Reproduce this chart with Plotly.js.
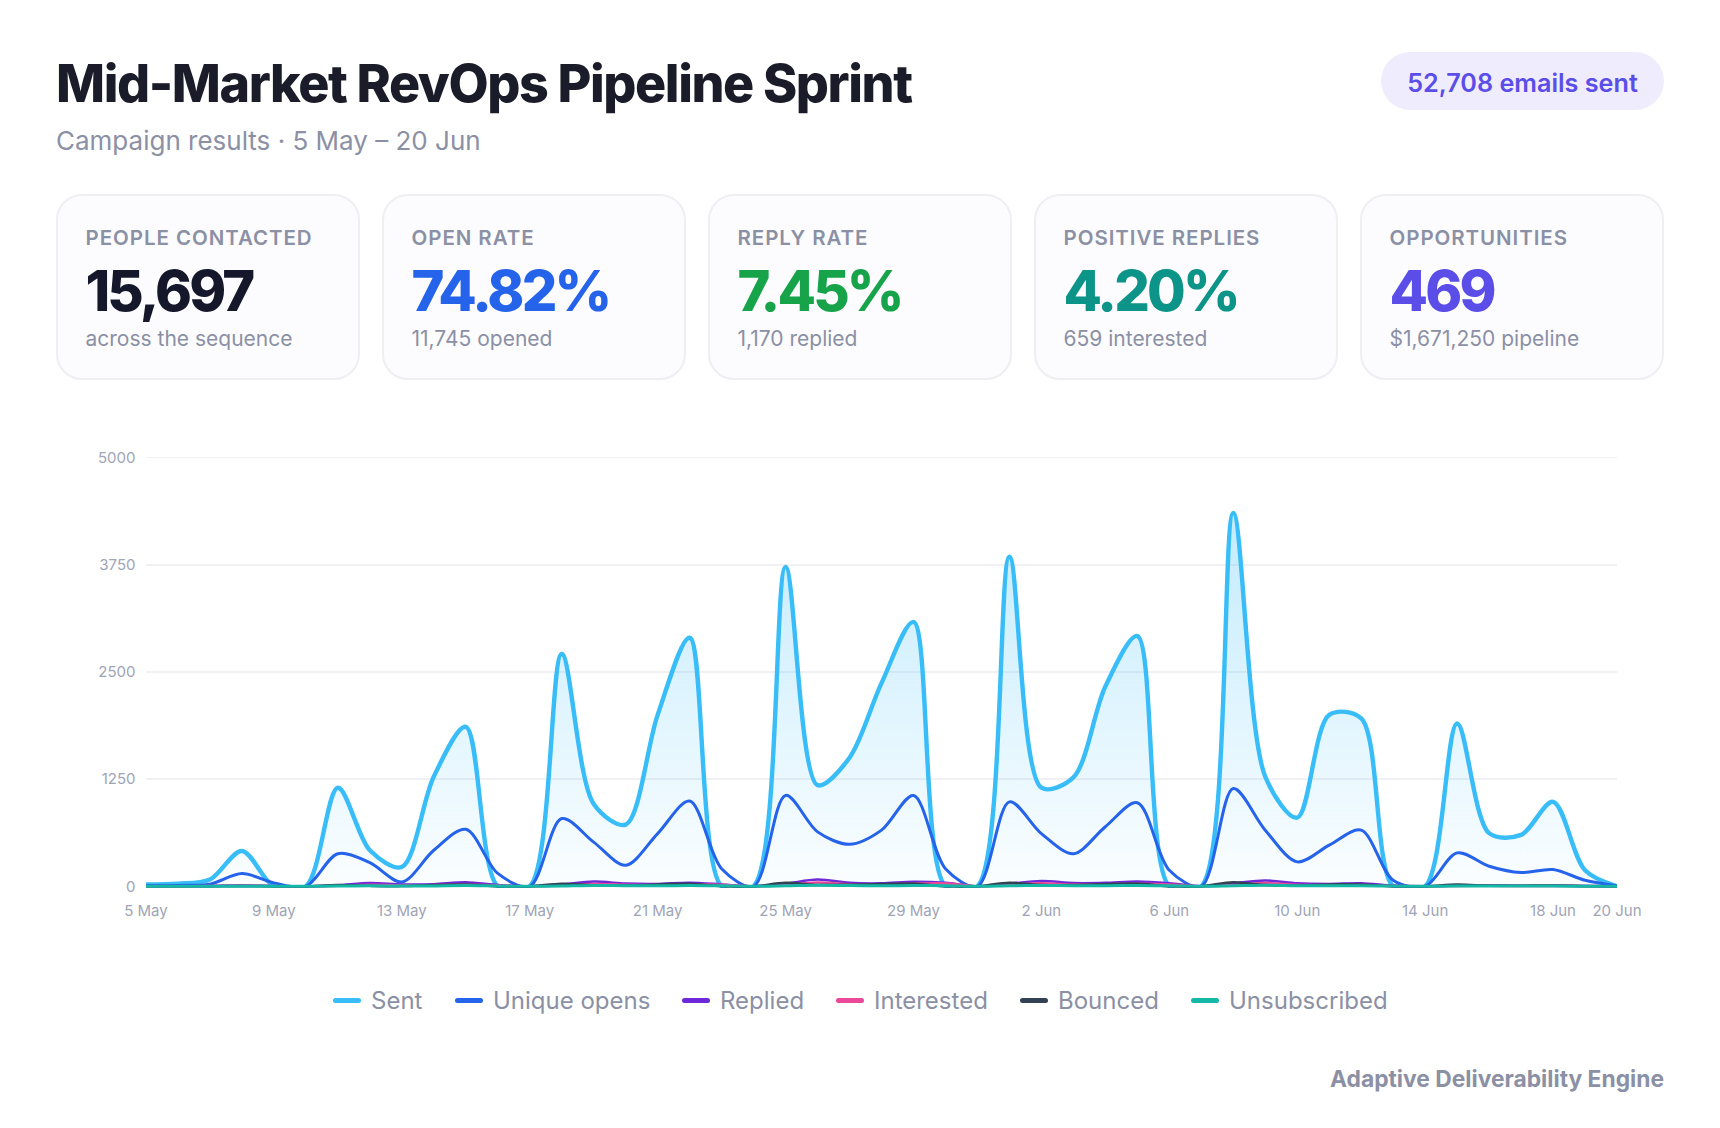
<!DOCTYPE html>
<html><head><meta charset="utf-8">
<script src="https://cdn.plot.ly/plotly-3.0.1.min.js"></script>
<style>
html,body{margin:0;padding:0;background:#fff;width:1720px;height:1128px;overflow:hidden;font-family:Inter,sans-serif}
#title{position:absolute;left:56px;top:52px;font-size:52px;font-weight:800;letter-spacing:-1.4px;color:#1a1d29;line-height:64px;white-space:nowrap}
#sub{position:absolute;left:56px;top:124px;font-size:26px;color:#8b90a5;line-height:34px;white-space:nowrap}
#pill{position:absolute;left:1381px;top:52px;width:283px;height:58px;border-radius:29px;background:#efecfd;color:#5b4ee8;font-size:25.2px;font-weight:600;line-height:62px;text-align:center;white-space:nowrap}
.card{position:absolute;top:194px;width:304px;height:186px;box-sizing:border-box;background:#fcfcfe;border:2px solid #eeeef3;border-radius:26px}
.card div{position:absolute;left:27.5px;white-space:nowrap}
.lab{top:28px;font-size:20.5px;font-weight:600;letter-spacing:.95px;color:#8b90a5;line-height:28px}
.val{top:61px;font-size:56px;font-weight:800;letter-spacing:-2.85px;line-height:68px}
.subl{top:128px;font-size:21px;color:#8b90a5;line-height:30px}
#chart{position:absolute;left:0;top:400px;width:1720px;height:540px}
#legend{position:absolute;left:0;top:985px;width:1720px;height:32px}
#legend span{position:absolute;top:0;font-size:24px;line-height:32px;color:#8b90a5;white-space:nowrap}
#legend i{position:absolute;top:13px;width:28px;height:5px;border-radius:3px}
#foot{position:absolute;right:56px;top:1063px;font-size:22.8px;font-weight:700;color:#8b90a5;line-height:32px;white-space:nowrap}
</style></head><body>
<div id="title">Mid-Market RevOps Pipeline Sprint</div>
<div id="sub">Campaign results · 5 May – 20 Jun</div>
<div id="pill">52,708 emails sent</div>
<div id="cards"></div>
<div id="chart"></div>
<div id="legend"></div>
<div id="foot">Adaptive Deliverability Engine</div>
<script>
const days=["5 May","6 May","7 May","8 May","9 May","10 May","11 May","12 May","13 May","14 May","15 May","16 May","17 May","18 May","19 May","20 May","21 May","22 May","23 May","24 May","25 May","26 May","27 May","28 May","29 May","30 May","31 May","1 Jun","2 Jun","3 Jun","4 Jun","5 Jun","6 Jun","7 Jun","8 Jun","9 Jun","10 Jun","11 Jun","12 Jun","13 Jun","14 Jun","15 Jun","16 Jun","17 Jun","18 Jun","19 Jun","20 Jun"];
const tickLabels=["5 May","9 May","13 May","17 May","21 May","25 May","29 May","2 Jun","6 Jun","10 Jun","14 Jun","18 Jun","20 Jun"];
const yTicks=[0,1250,2500,3750,5000];
const sent=[20,30,80,412,0,0,1150,420,225,1280,1860,0,0,2710,960,720,2000,2900,0,0,3727,1180,1500,2370,3085,0,0,3845,1150,1270,2330,2920,0,0,4355,1280,800,2000,1960,0,0,1900,620,600,985,187,0];
const opens=[5,10,25,148,40,0,380,275,50,420,665,150,0,790,515,245,615,995,205,0,1060,635,490,655,1060,205,0,985,615,380,695,975,187,0,1140,655,285,480,655,70,0,390,234,160,195,70,5];
const replied=[2,2,4,8,3,0,12,38,22,25,48,15,0,22,55,32,28,42,22,0,30,78,40,35,52,40,0,30,62,38,40,55,35,0,35,68,35,28,35,8,0,8,12,6,8,3,0];
const interested=[1,1,2,4,1,0,5,18,10,14,22,8,0,10,28,18,15,24,18,0,14,45,22,18,32,35,0,14,34,20,22,30,22,0,16,38,18,14,18,4,0,4,6,3,4,1,0];
const bounced=[0,0,0,4,0,0,14,5,2,15,20,0,0,30,12,9,22,30,0,0,40,15,18,26,33,0,0,42,15,15,26,32,0,0,48,14,10,22,20,0,0,20,7,6,10,2,0];
const unsubscribed=[0,0,1,1,0,0,3,5,3,4,8,3,0,4,10,6,5,8,5,0,5,12,8,6,9,6,0,6,10,7,7,9,5,0,6,12,6,5,7,2,0,2,3,2,2,1,0];
const seriesNames=["Sent","Unique opens","Replied","Interested","Bounced","Unsubscribed"];
const seriesColors=["#38bdf8","#2563eb","#6d28d9","#ec4899","#334155","#14b8a6"];
const seriesWidths=[4.4,3,2.5,2.5,2.5,3];
const seriesData=[sent,opens,replied,interested,bounced,unsubscribed];
const cardLabels=["PEOPLE CONTACTED","OPEN RATE","REPLY RATE","POSITIVE REPLIES","OPPORTUNITIES"];
const cardValues=["15,697","74.82%","7.45%","4.20%","469"];
const cardSubs=["across the sequence","11,745 opened","1,170 replied","659 interested","$1,671,250 pipeline"];
const cardColors=["#15172b","#2563eb","#16a34a","#0d9488","#5b4ee8"];
const legendX=[[333,371],[455,493],[682,720],[836,874],[1020,1058],[1191,1229]];

document.getElementById('cards').innerHTML=cardLabels.map((l,i)=>`<div class="card" style="left:${56+326*i}px"><div class="lab">${l}</div><div class="val" style="color:${cardColors[i]}">${cardValues[i]}</div><div class="subl">${cardSubs[i]}</div></div>`).join('');
document.getElementById('legend').innerHTML=seriesNames.map((n,i)=>`<i style="left:${legendX[i][0]}px;background:${seriesColors[i]}"></i><span style="left:${legendX[i][1]}px">${n}</span>`).join('');

const traces=seriesNames.map((n,i)=>{
  const t={type:'scatter',mode:'lines',name:n,x:days,y:seriesData[i],cliponaxis:false,hoverinfo:'x+y+name',
    line:{color:seriesColors[i],width:seriesWidths[i],shape:'spline',smoothing:0.9}};
  if(i===0){t.fill='tozeroy';t.fillgradient={type:'vertical',colorscale:[[0,'rgba(56,189,248,0.02)'],[1,'rgba(56,189,248,0.30)']]};}
  return t;
});
Plotly.newPlot('chart',traces,{
  width:1720,height:540,showlegend:false,
  margin:{l:146,r:103,t:56,b:52},
  paper_bgcolor:'rgba(0,0,0,0)',plot_bgcolor:'rgba(0,0,0,0)',
  font:{family:'Inter, sans-serif',size:15,color:'#9ca0b3'},
  xaxis:{type:'category',categoryorder:'array',categoryarray:days,range:[0,46],tickmode:'array',tickvals:tickLabels,ticktext:tickLabels,tickangle:0,showgrid:false,zeroline:false,showline:false,ticks:'outside',ticklen:9,tickcolor:'rgba(0,0,0,0)',tickfont:{size:15,color:'#a0a4b6'}},
  yaxis:{range:[-20,5020],tickmode:'array',tickvals:yTicks,ticktext:yTicks.map(String),showgrid:true,gridcolor:'#f0f0f5',gridwidth:1.5,zeroline:false,showline:false,ticks:'outside',ticklen:6.5,tickcolor:'rgba(0,0,0,0)',tickfont:{size:15,color:'#a0a4b6'}}
},{displayModeBar:false,staticPlot:true});
</script>
</body></html>
